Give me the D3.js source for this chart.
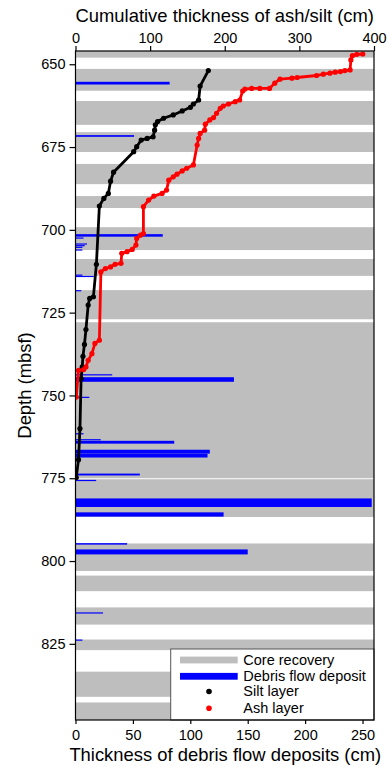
<!DOCTYPE html>
<html>
  <head>
    <meta charset="utf-8">
    <title>Debris flow deposits and cumulative ash/silt</title>
    <script type="text/javascript" src="https://d3js.org/d3.v7.min.js"></script>
    <style>
      body { margin: 0; background: #fff; }
      text { font-family: "Liberation Sans", Arial, sans-serif; }
    </style>
  </head>
  <body>
<svg width="391" height="767"></svg>
<script>
// core recovery intervals (top, bottom depth in mbsf)
var coreTop =    [640.0, 651.4, 661.1, 670.5, 680.1, 689.8, 699.2, 708.8, 718.2, 727.9, 775.3, 794.7, 804.4, 814.0, 823.7, 833.4, 842.7];
var coreBottom = [648.0, 658.0, 668.3, 676.5, 686.2, 693.4, 706.1, 713.9, 727.0, 775.0, 786.7, 803.0, 809.1, 819.2, 826.9, 841.0, 850.0];

// debris flow deposits: top depth (mbsf) and thickness (cm)
var debrisDepth = [655.3, 671.4, 701.3, 702.3, 704.1, 704.6, 705.1, 705.9, 713.5, 713.9, 718.2, 743.6, 744.5, 750.4, 761.4, 763.2, 763.7, 766.4, 767.6, 773.6, 775.5, 781.1, 785.3, 794.6, 796.5, 815.5, 823.7];
var debrisThick = [82, 51, 76, 7, 10, 8, 6, 6, 6, 16, 5, 32, 138, 12, 7, 22, 86, 117, 115, 56, 18, 258, 129, 45, 150, 24, 6];

// silt layers: depth (mbsf) and cumulative thickness (cm)
var siltDepth = [651.9, 656.6, 660.8, 662.0, 663.0, 664.1, 665.3, 666.3, 667.3, 668.3, 669.9, 671.9, 672.4, 672.9, 674.9, 676.4, 682.6, 685.3, 689.0, 690.5, 692.8, 710.4, 720.2, 720.7, 722.7, 730.1, 734.6, 738.2, 741.4, 744.9, 760.0, 769.4, 774.8];
var siltCum =   [178, 167, 165, 158, 154, 143, 131, 118, 110, 107, 106, 104, 96, 88, 82, 78, 51, 47, 44, 38, 32, 28, 24, 19, 17, 14, 12, 10, 9, 7.5, 6, 4, 1];

// ash layers: depth (mbsf) and cumulative thickness (cm)
var ashDepth = [646.9, 647.0, 647.4, 648.7, 651.7, 651.9, 652.2, 652.4, 652.7, 653.0, 653.4, 654.0, 654.2, 654.5, 655.7, 657.3, 657.3, 657.3, 657.5, 658.1, 660.8, 661.3, 662.0, 662.6, 663.3, 664.8, 666.1, 666.8, 668.1, 669.9, 670.9, 672.4, 674.4, 680.4, 681.4, 682.2, 683.2, 684.0, 685.0, 688.0, 689.0, 689.8, 691.0, 693.0, 701.1, 701.6, 702.6, 704.6, 705.9, 706.6, 707.1, 710.1, 710.4, 711.2, 711.7, 712.7, 733.3, 734.3, 737.4, 739.4, 741.4, 742.2, 742.4, 750.5];
var ashCum =   [385, 377, 371, 369, 368, 361, 355, 348, 341, 332, 323, 297, 290, 274, 267, 260, 247, 236, 227, 224, 220, 214, 205, 198, 194, 189, 185, 180, 174, 173, 167, 165, 163, 158, 149, 143, 136, 131, 125, 122, 116, 105, 98, 91, 91, 87, 82, 81, 76, 69, 62, 61, 53, 47, 40, 34, 32, 26, 22, 17, 14, 11, 4, 1];

var depthTicks = [650, 675, 700, 725, 750, 775, 800, 825];
var cumTicks = [0, 100, 200, 300, 400];
var thickTicks = [0, 50, 100, 150, 200, 250];

var legendLabels = ["Core recovery", "Debris flow deposit", "Silt layer", "Ash layer"];

var svg = d3.select("svg");
var plotL = 75.5, plotR = 374, plotT = 51, plotB = 720;

var y = d3.scaleLinear().domain([646, 848]).range([plotT, plotB]);
var xCum = d3.scaleLinear().domain([0, 400]).range([plotL, plotR]);
var xThick = d3.scaleLinear().domain([0, 260]).range([plotL, plotR]);

svg.append("clipPath").attr("id", "plotclip")
  .append("rect")
    .attr("x", plotL).attr("y", plotT)
    .attr("width", plotR - plotL).attr("height", plotB - plotT);

var plot = svg.append("g").attr("clip-path", "url(#plotclip)");

// core recovery bands
plot.selectAll("rect.core")
  .data(coreTop)
  .enter().append("rect")
    .attr("class", "core")
    .attr("x", plotL)
    .attr("width", plotR - plotL)
    .attr("y", function(d) { return y(d); })
    .attr("height", function(d, i) { return y(coreBottom[i]) - y(d); })
    .attr("fill", "#bebebe");

// debris flow bars, height = thickness in metres
plot.selectAll("rect.debris")
  .data(debrisDepth)
  .enter().append("rect")
    .attr("class", "debris")
    .attr("x", plotL)
    .attr("width", function(d, i) { return xThick(debrisThick[i]) - plotL; })
    .attr("y", function(d) { return y(d); })
    .attr("height", function(d, i) {
        return Math.max(1.2, y(d + debrisThick[i] / 100) - y(d));
    })
    .attr("fill", "#0000ff");

function drawSeries(depths, cums, col) {
  var pts = depths.map(function(d, i) { return [cums[i], d]; });
  var line = d3.line()
      .x(function(p) { return xCum(p[0]); })
      .y(function(p) { return y(p[1]); });
  plot.append("path")
    .datum(pts)
    .attr("fill", "none")
    .attr("stroke", col)
    .attr("stroke-width", 2.8)
    .attr("stroke-linejoin", "round")
    .attr("d", line);
  plot.selectAll(null)
    .data(pts)
    .enter().append("circle")
      .attr("cx", function(p) { return xCum(p[0]); })
      .attr("cy", function(p) { return y(p[1]); })
      .attr("r", 2.6)
      .attr("fill", col);
}
drawSeries(siltDepth, siltCum, "#000");
drawSeries(ashDepth, ashCum, "#ff0000");

// legend
var lg = svg.append("g");
lg.append("rect")
    .attr("x", 170.7).attr("y", 649)
    .attr("width", plotR - 170.7).attr("height", plotB - 649)
    .attr("fill", "#fff")
    .attr("stroke", "#555")
    .attr("stroke-width", 1);
var rowY = [660, 676.3, 691.5, 708.3];
lg.append("rect").attr("x", 180).attr("y", rowY[0] - 3.4).attr("width", 57.7).attr("height", 6.8).attr("fill", "#bebebe");
lg.append("rect").attr("x", 180).attr("y", rowY[1] - 3.4).attr("width", 57.7).attr("height", 6.8).attr("fill", "#0000ff");
lg.append("circle").attr("cx", 209).attr("cy", rowY[2]).attr("r", 2.8).attr("fill", "#000");
lg.append("circle").attr("cx", 209).attr("cy", rowY[3]).attr("r", 2.8).attr("fill", "#ff0000");
lg.selectAll("text")
  .data(legendLabels)
  .enter().append("text")
    .attr("x", 243.3)
    .attr("y", function(d, i) { return rowY[i] + 4.5; })
    .attr("font-size", "14.5px")
    .attr("fill", "#000")
    .text(function(d) { return d; });

// box
svg.append("rect")
    .attr("x", plotL).attr("y", plotT)
    .attr("width", plotR - plotL).attr("height", plotB - plotT)
    .attr("fill", "none")
    .attr("stroke", "#000")
    .attr("stroke-width", 1.2);

// axes
var gl = svg.append("g")
    .attr("transform", "translate(" + plotL + ",0)")
    .call(d3.axisLeft(y).tickValues(depthTicks).tickSize(6).tickPadding(4));
var gt = svg.append("g")
    .attr("transform", "translate(0," + plotT + ")")
    .call(d3.axisTop(xCum).tickValues(cumTicks).tickSize(5).tickPadding(3));
var gb = svg.append("g")
    .attr("transform", "translate(0," + plotB + ")")
    .call(d3.axisBottom(xThick).tickValues(thickTicks).tickSize(4).tickPadding(6));
[gl, gt, gb].forEach(function(g) {
  g.select(".domain").remove();
  g.selectAll("text").attr("font-size", "14.5px").attr("fill", "#000")
    .attr("font-family", "'Liberation Sans', Arial, sans-serif");
  g.selectAll("line").attr("stroke", "#000").attr("stroke-width", 1.2);
});

// axis titles
svg.append("text")
    .attr("x", (plotL + plotR) / 2).attr("y", 22)
    .attr("text-anchor", "middle")
    .attr("font-size", "18.4px")
    .text("Cumulative thickness of ash/silt (cm)");
svg.append("text")
    .attr("x", (plotL + plotR) / 2 + 0.5).attr("y", 761)
    .attr("text-anchor", "middle")
    .attr("font-size", "18.4px")
    .text("Thickness of debris flow deposits (cm)");
svg.append("text")
    .attr("transform", "translate(31," + (plotT + plotB) / 2 + ") rotate(-90)")
    .attr("text-anchor", "middle")
    .attr("font-size", "18.4px")
    .text("Depth (mbsf)");
</script>
  </body>
</html>
